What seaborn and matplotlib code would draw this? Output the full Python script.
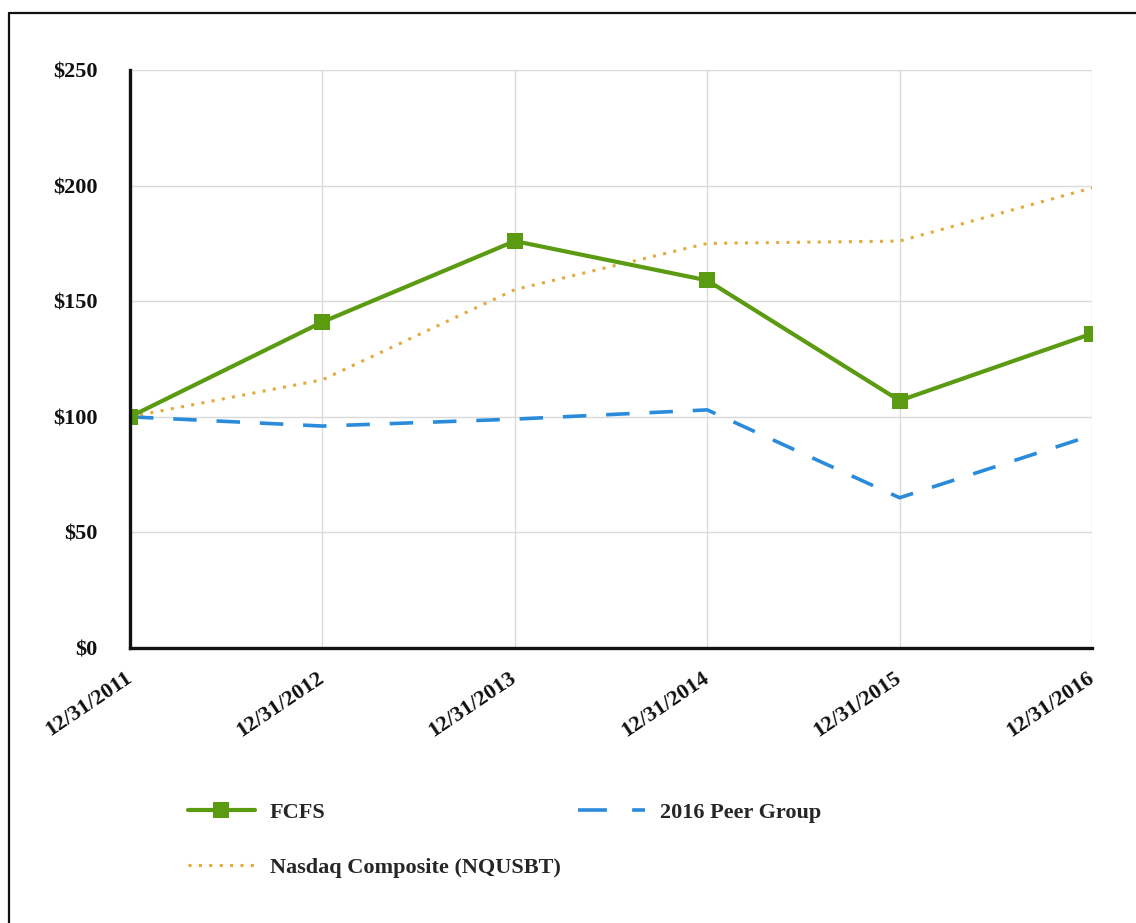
import matplotlib
matplotlib.use("Agg")
import matplotlib.pyplot as plt
from matplotlib.lines import Line2D
import seaborn as sns
import pandas as pd

# Cumulative total return of $100 invested on 12/31/2011
dates = ["12/31/2011", "12/31/2012", "12/31/2013", "12/31/2014", "12/31/2015", "12/31/2016"]
fcfs = [100, 141, 176, 159, 107, 136]
peer_group = [100, 96, 99, 103, 65, 92]
nasdaq = [100, 116, 155, 175, 176, 199]
y_ticks = [0, 50, 100, 150, 200, 250]
y_tick_labels = ["$0", "$50", "$100", "$150", "$200", "$250"]

sns.set_theme(style="white")
plt.rcParams["font.family"] = ["Liberation Serif", "DejaVu Serif"]
plt.rcParams["font.weight"] = "bold"

df = pd.DataFrame({"pos": range(len(dates)), "FCFS": fcfs,
                   "2016 Peer Group": peer_group,
                   "Nasdaq Composite (NQUSBT)": nasdaq})

fig = plt.figure(figsize=(11.36, 9.23), dpi=100)
ax = fig.add_axes([0.1144, 0.2979, 0.8469, 0.6263])

green = "#5A9B12"
blue = "#2A8BDA"
gold = "#E2AA3C"
fs = 16

sns.lineplot(data=df, x="pos", y="Nasdaq Composite (NQUSBT)", ax=ax, color=gold,
             linewidth=2.2, linestyle=(0, (1, 2.4)), zorder=3)
sns.lineplot(data=df, x="pos", y="2016 Peer Group", ax=ax, color=blue,
             linewidth=2.6, linestyle=(0, (6.5, 5.5)), zorder=4)
sns.lineplot(data=df, x="pos", y="FCFS", ax=ax, color=green, linewidth=3.0,
             marker="s", markersize=11, markeredgewidth=0, zorder=5)

ax.set_xlim(0, len(dates) - 1)
ax.set_ylim(0, 250)
ax.set_xticks(range(len(dates)))
ax.set_xticklabels(dates, rotation=34, ha="right", va="center",
                   rotation_mode="anchor", fontsize=fs, fontweight="bold")
ax.set_yticks(y_ticks)
ax.set_yticklabels(y_tick_labels, fontsize=fs, fontweight="bold")
ax.set_xlabel("")
ax.set_ylabel("")

ax.grid(True, color="#DADADA", linewidth=1.0)
ax.set_axisbelow(True)
for side in ("top", "right"):
    ax.spines[side].set_visible(False)
for side in ("left", "bottom"):
    ax.spines[side].set_color("#111111")
    ax.spines[side].set_linewidth(2.4)
    ax.spines[side].set_zorder(6)
ax.tick_params(axis="both", which="major", direction="out", length=8.6,
               width=1.2, color="#333333", labelcolor="#111111")
ax.tick_params(axis="y", pad=14.5)
ax.tick_params(axis="x", pad=11.5)

# Legend
handles = [
    Line2D([], [], color=green, linewidth=3.0, marker="s", markersize=11, markeredgewidth=0),
    Line2D([], [], color=gold, linewidth=2.2, linestyle=(0, (1, 2.4))),
    Line2D([], [], color=blue, linewidth=2.6, linestyle=(0, (8, 7))),
]
labels = ["FCFS", "Nasdaq Composite (NQUSBT)", "2016 Peer Group"]
fig.legend(handles, labels, ncol=2, loc="upper left",
           bbox_to_anchor=(0.1518, 0.148), bbox_transform=fig.transFigure,
           frameon=False, handlelength=3.0, handletextpad=0.68,
           columnspacing=0.8, labelspacing=1.55, borderpad=0.2,
           prop={"family": ["Liberation Serif"], "weight": "bold", "size": fs})

# Outer frame on the left and top edges
fig.add_artist(Line2D([0.0078, 0.0078], [0.0, 0.986], transform=fig.transFigure,
                      color="#111111", linewidth=1.6))
fig.add_artist(Line2D([0.0078, 1.0], [0.986, 0.986], transform=fig.transFigure,
                      color="#111111", linewidth=1.6))

fig.savefig("out.png", dpi=100, facecolor="white")
